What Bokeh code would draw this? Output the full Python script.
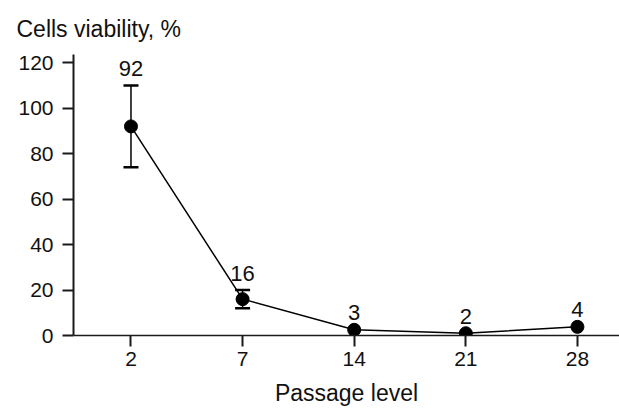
from bokeh.plotting import figure
from bokeh.models import (ColumnDataSource, Range1d, FixedTicker, Whisker, TeeHead, Title)
from bokeh.core.properties import value
from bokeh.embed import file_html
from bokeh.resources import INLINE

# ---- data ----
passages = ["2", "7", "14", "21", "28"]
viability = [92, 16, 2.5, 1, 3.8]
value_labels = ["92", "16", "3", "2", "4"]
err_lower = [74, 12, None, None, None]
err_upper = [110, 20, None, None, None]
y_ticks = [0, 20, 40, 60, 80, 100, 120]
title_text = "Cells viability, %"
x_title = "Passage level"

FONT = "Liberation Sans"
idx = list(range(len(passages)))
Y_MAX = 123.65

p = figure(width=619, height=409, output_backend="svg", toolbar_location=None,
           x_range=Range1d(-0.515, 4.377), y_range=Range1d(0, Y_MAX),
           min_border_left=73, min_border_right=0, min_border_top=54, min_border_bottom=74)
p.outline_line_color = None
p.xgrid.visible = False
p.ygrid.visible = False
p.background_fill_color = "white"
p.border_fill_color = "white"

# axes
p.xaxis.ticker = FixedTicker(ticks=idx)
p.xaxis.major_label_overrides = {i: s for i, s in zip(idx, passages)}
p.yaxis.ticker = FixedTicker(ticks=y_ticks)
for ax, lw in ((p.xaxis, 1.5), (p.yaxis, 2)):
    ax.axis_line_color = "#1a1a1a"
    ax.axis_line_width = lw
    ax.major_tick_line_color = "#1a1a1a"
    ax.major_tick_line_width = 2
    ax.major_tick_in = 0
    ax.major_tick_out = 11
    ax.minor_tick_line_color = None
    ax.major_label_text_font = FONT
    ax.major_label_text_font_size = "21px"
    ax.major_label_text_color = "#111111"
p.xaxis.major_label_standoff = 5
p.yaxis.major_label_standoff = 9
p.xaxis.axis_label = x_title
p.xaxis.axis_label_text_font = FONT
p.xaxis.axis_label_text_font_size = "23px"
p.xaxis.axis_label_text_font_style = "normal"
p.xaxis.axis_label_text_color = "#111111"
p.xaxis.axis_label_standoff = 11

# title
p.add_layout(Title(text=title_text, align="left", offset=-57, text_font=FONT,
                   text_font_size="23px", text_font_style="normal",
                   text_color="#111111", standoff=25), "above")

# line + markers
src = ColumnDataSource(dict(x=idx, y=viability, lab=value_labels,
                            top=[u if u is not None else v for u, v in zip(err_upper, viability)]))
p.line("x", "y", source=src, line_color="black", line_width=1.5)
p.scatter("x", "y", source=src, size=13, fill_color="black", line_color="black")

# error bars
eb_x = [i for i, u in zip(idx, err_upper) if u is not None]
eb_src = ColumnDataSource(dict(
    base=eb_x,
    lower=[l for l in err_lower if l is not None],
    upper=[u for u in err_upper if u is not None]))
w = Whisker(base="base", lower="lower", upper="upper", source=eb_src, dimension="height",
            line_color="black", line_width=1.5,
            upper_head=TeeHead(size=15, line_width=2.5, line_color="black"),
            lower_head=TeeHead(size=15, line_width=2.5, line_color="black"))
p.add_layout(w)

# value labels
p.text("x", "top", text="lab", source=src, text_align="center", text_baseline="alphabetic",
       y_offset=-17, text_font=value(FONT), text_font_size="22px", text_color="#111111")

open("out.html", "w").write(file_html(p, INLINE))
